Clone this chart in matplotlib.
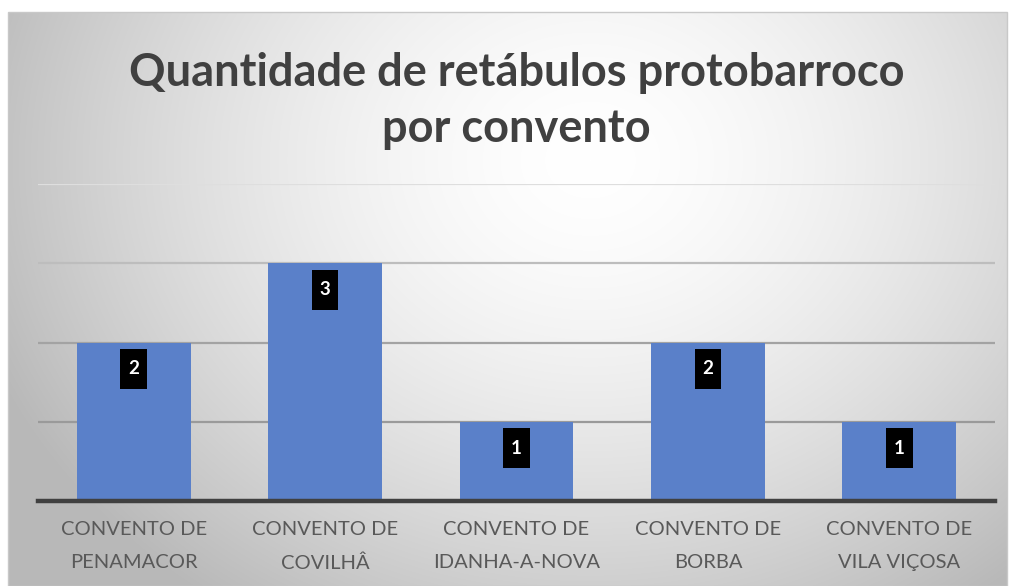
import numpy as np
import matplotlib
matplotlib.use("Agg")
import matplotlib.pyplot as plt
from matplotlib.patches import Rectangle
from matplotlib.path import Path

categories = ["CONVENTO DE\nPENAMACOR", "CONVENTO DE\nCOVILHÂ", "CONVENTO DE\nIDANHA-A-NOVA",
              "CONVENTO DE\nBORBA", "CONVENTO DE\nVILA VIÇOSA"]
values = [2, 3, 1, 2, 1]
yticks = [1, 2, 3, 4]
title = "Quantidade de retábulos protobarroco\npor convento"

W, H = 1011, 586
fig = plt.figure(figsize=(W / 100, H / 100), dpi=100)
fig.patch.set_facecolor("white")

# background frame with radial gradient
fx0, fy0, fx1, fy1 = 8, 13, 1007, 586  # pixel coords (top-left origin)
bg = fig.add_axes([fx0 / W, 1 - fy1 / H, (fx1 - fx0) / W, (fy1 - fy0) / H], zorder=0)
xx, yy = np.meshgrid(np.arange(fx0, fx1), np.arange(fy0, fy1))
cx, cy, rx, ry = 590, 160, 560, 470
d = np.sqrt(((xx - cx) / rx) ** 2 + ((yy - cy) / ry) ** 2)
d = np.clip(d, 0, 1.15)
g = 1.0 - 0.22 * (d ** 1.6)
img = np.dstack([g, g, g])
bg.imshow(img, aspect="auto", interpolation="bilinear")
bg.set_axis_off()
fig.patches.append(Rectangle((fx0 / W, 0), (fx1 - fx0) / W, (fy1 - fy0) / H + 0.001,
                             transform=fig.transFigure, fill=False, edgecolor="#c8c8c8",
                             linewidth=1.0, zorder=1))

ax = fig.add_axes([38 / W, 1 - 501 / H, (995 - 38) / W, (501 - 184) / H], zorder=2)
ax.set_facecolor("none")
x = np.arange(len(categories))
ax.set_xlim(-0.5, len(categories) - 0.5)
ax.set_ylim(0, 4)

grid_colors = ["#9a9a9a", "#a3a3a3", "#bdbdbd", "#dedede"]
for t, c in zip(yticks, grid_colors):
    ax.axhline(t, color=c, linewidth=1.6, zorder=1)

ax.bar(x, values, width=0.595, color="#5A80C9", zorder=2)


def tall_box(x0, y0, width, height, mutation_size):
    hp = 0.42 * mutation_size
    vp = 0.62 * mutation_size
    cxm = x0 + width / 2
    cym = y0 + height / 2
    w2 = max(width / 2 + hp, 0)
    h2 = height / 2 + vp
    return Path([(cxm - w2, cym - h2), (cxm + w2, cym - h2), (cxm + w2, cym + h2),
                 (cxm - w2, cym + h2), (cxm - w2, cym - h2)], closed=True)


for xi, v in zip(x, values):
    ax.annotate(str(v), xy=(xi, v), xytext=(0, -19), textcoords="offset points",
                ha="center", va="center", fontsize=13.5, fontweight="bold", color="white",
                family="Lato",
                bbox=dict(boxstyle=tall_box, facecolor="black", edgecolor="none"),
                zorder=4)

for s in ["top", "right", "left"]:
    ax.spines[s].set_visible(False)
ax.spines["bottom"].set_color("#404040")
ax.spines["bottom"].set_linewidth(3.2)
ax.spines["bottom"].set_zorder(5)
ax.set_yticks([])
ax.set_xticks(x)
ax.set_xticklabels(categories, fontsize=14.5, color="#595959", family="Lato", linespacing=2.12)
ax.tick_params(axis="x", length=0, pad=14.5)

fig.text(0.511, 1 - 101 / H, title, ha="center", va="center", fontsize=32.5, fontweight="bold",
         color="#404040", family="Lato", linespacing=1.42, zorder=3)

fig.savefig("out.png", dpi=100)
